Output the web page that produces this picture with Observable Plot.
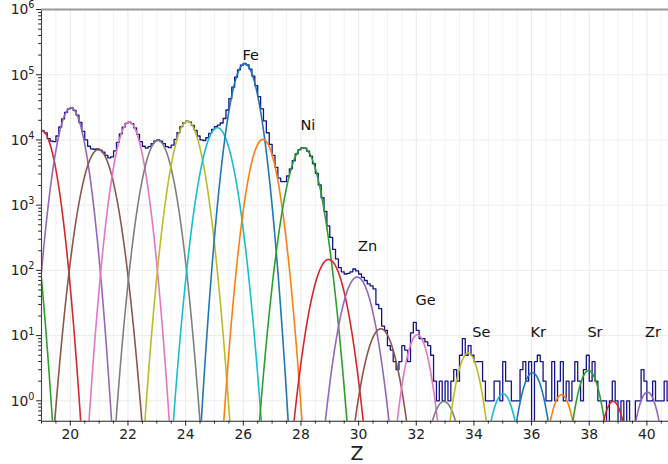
<!DOCTYPE html>
<html><head><meta charset="utf-8">
<script src="https://cdn.jsdelivr.net/npm/d3@7"></script>
<script src="https://cdn.jsdelivr.net/npm/@observablehq/plot@0.6"></script>
<style>body{margin:0;background:#fff}svg{display:block}</style>
</head><body><div id="chart"></div>
<script>
// ---- data ----
const binStart = 19.0;
const binWidth = 0.1;
const counts = [
  13800,12800,10500,9600,9400,11500,15800,21000,26500,30000,   // 19.0-19.9
  31000,28500,24000,18500,13500,10000,8000,7300,7200,7300,     // 20.0-20.9
  7000,6500,5800,5300,5500,6800,9200,12400,15700,18000,        // 21.0-21.9
  18800,17800,15300,12200,9400,8000,7500,7900,8800,9700,       // 22.0-22.9
  10000,9600,8800,7900,7600,8300,10200,12900,16000,18300,      // 23.0-23.9
  19400,18800,16700,14000,11500,10000,9800,10800,12600,14500,  // 24.0-24.9
  16000,16900,18200,21300,28800,43000,64400,91600,119000,140000, // 25.0-25.9
  148500,141400,122000,94900,68100,46000,30000,19600,12900,8540, // 26.0-26.9
  5800,3800,2600,2300,2300,2800,3600,4800,6100,7100,           // 27.0-27.9
  7600,7460,6750,5630,4330,3080,2040,1300,800,480,             // 28.0-28.9
  320,210,150,110,95,88,90,95,105,98,                          // 29.0-29.9
  88,78,70,62,58,52,30,26,14,12,                               // 30.0-30.9
  7,6,4,3,4,7,6,4,11,16,                                       // 31.0-31.9
  12,9,9,8,7,5,2,1,2,1,                                        // 32.0-32.9
  2,1,2,3,2,5,9,5,7,5,                                         // 33.0-33.9
  4,4,4,2,1,1,1,2,2,1,                                         // 34.0-34.9
  4,2,2,1,1,1,3,4,2,4,                                         // 35.0-35.9
  0,4,5,4,2,1,1,4,1,2,                                         // 36.0-36.9
  4,1,2,1,2,4,2,1,3,5,                                         // 37.0-37.9
  2,4,2,1,1,1,0,1,2,1,                                         // 38.0-38.9
  0,1,0,1,0,0,1,1,3,2,                                         // 39.0-39.9
  1,1,2,1,1,1,2,1                                              // 40.0-40.7
];
// Gaussian fit components (one per element Z)
const compZ     = [18,19,20,21,22,23,24,25,26,27,28,29,30,31,32,33,34,35,36,37,38,39,40];
const compAmp   = [1.9e4,1.4e4,3.1e4,7.1e3,1.87e4,9.8e3,1.92e4,1.54e4,1.47e5,1.02e4,7.6e3,147,79,12.7,10.3,0.98,5.4,1.28,2.7,1.24,2.92,0.98,1.36];
const compMu    = [18.0,19.0,20.02,20.97,22.04,23.04,24.06,25.1,26.05,26.68,28.08,28.96,29.95,30.77,32.04,32.96,33.8,35.01,36.03,37.04,37.98,38.83,40.02];
const compSigma = [0.30,0.30,0.30,0.345,0.303,0.327,0.32,0.335,0.30,0.304,0.345,0.355,0.346,0.35,0.283,0.34,0.287,0.30,0.295,0.285,0.29,0.283,0.282];
// element labels
const labelText = ["Fe","Ni","Zn","Ge","Se","Kr","Sr","Zr"];
const labelX    = [26.26,28.24,30.31,32.32,34.26,36.23,38.2,40.21];
const labelY    = [2.0e5,1.7e4,230,35,11.4,11.4,11.4,11.4];
// axis ticks
const majorX = [20,22,24,26,28,30,32,34,36,38,40];
const decades = [1,10,100,1e3,1e4,1e5,1e6];
const decadeExp = [0,1,2,3,4,5,6];

// ---- derived tables ----
const tab10 = ["#1f77b4","#ff7f0e","#2ca02c","#d62728","#9467bd","#8c564b","#e377c2","#7f7f7f","#bcbd22","#17becf"];
const yMin = 0.487, yMax = 1e6, xMin = 19, xMax = 40.75;
const histPts = counts.map((c, i) => ({x: binStart + i * binWidth, y: c > 0 ? c : 0.01}));
histPts.push({x: binStart + counts.length * binWidth, y: counts[counts.length - 1]});

const curves = [];
compZ.forEach((z, k) => {
  const mu = compMu[k], s = compSigma[k], A = compAmp[k];
  const lo = Math.max(xMin - 0.1, mu - 6 * s), hi = Math.min(xMax + 0.1, mu + 6 * s);
  for (let t = lo; t <= hi + 1e-9; t += 0.005) {
    const v = A * Math.exp(-((t - mu) ** 2) / (2 * s * s));
    if (v > 0.02) curves.push({x: t, y: v, z, color: tab10[((z - 26) % 10 + 10) % 10]});
  }
});
const minorX = d3.range(19, 40.76, 0.5).filter(v => !majorX.includes(v));
const minorY = [];
for (let e = -1; e < 6; e++) for (let m = 2; m <= 9; m++) { const v = m * 10 ** e; if (v > yMin && v < yMax) minorY.push(v); }

const labels = labelText.map((t, i) => ({t, x: labelX[i], y: labelY[i]}));

const fig = Plot.plot({
  width: 668, height: 464,
  marginLeft: 41, marginRight: 0, marginTop: 9, marginBottom: 43.3,
  x: {domain: [xMin, xMax]},
  y: {type: "log", domain: [yMin, yMax]},
  style: {fontFamily: "DejaVu Sans", fontSize: "13.9px", background: "white", color: "#222", overflow: "visible"},
  marks: [
    Plot.ruleX(minorX, {stroke: "#f2f2f2", strokeWidth: 1}),
    Plot.ruleX(majorX, {stroke: "#e8e8e8", strokeWidth: 1}),
    Plot.ruleY(decades, {stroke: "#ececec", strokeWidth: 1}),
    Plot.line(histPts, {x: "x", y: "y", curve: "step-after", stroke: "#13138c", strokeWidth: 1.3, clip: true}),
    Plot.line(curves, {x: "x", y: "y", z: "z", stroke: "color", strokeWidth: 1.6, clip: true}),
    Plot.text(labels, {x: "x", y: "y", text: "t", fontSize: 14.5, fill: "#111", textAnchor: "middle", lineAnchor: "middle"}),
    Plot.axisX({ticks: majorX, tickSize: 4.9, tickPadding: 3.5, tickFormat: d => String(d), label: null, stroke: "#222"}),
    Plot.axisX({ticks: minorX, tickSize: 2.8, tickFormat: () => "", label: null, stroke: "#222"}),
    Plot.axisY({ticks: decades, tickSize: 4.9, tickFormat: () => "", label: null, stroke: "#222"}),
    Plot.axisY({ticks: minorY, tickSize: 2.8, tickFormat: () => "", label: null, stroke: "#222"}),
    Plot.ruleY([yMin], {stroke: "#222", strokeWidth: 1.1}),
    Plot.ruleX([xMin], {stroke: "#444", strokeWidth: 1.1}),
    Plot.ruleY([yMax], {stroke: "#999", strokeWidth: 2})
  ]
});

const ys = fig.scale("y");
const svg = d3.select(fig);
const g = svg.append("g").attr("font-family", "DejaVu Sans").attr("font-size", 13.9).attr("fill", "#222").attr("text-anchor", "end");
decades.forEach((v, i) => {
  const t = g.append("text").attr("x", 34.5).attr("y", ys.apply(v)).attr("dy", "0.38em");
  t.append("tspan").text("10");
  t.append("tspan").attr("dy", "-0.6em").attr("font-size", 9.7).text(String(decadeExp[i]));
});
svg.append("text").attr("x", 357).attr("y", 460).attr("text-anchor", "middle")
  .attr("font-family", "DejaVu Sans").attr("font-size", 19).attr("fill", "#222").text("Z");

document.getElementById("chart").appendChild(fig);
</script>
</body></html>
